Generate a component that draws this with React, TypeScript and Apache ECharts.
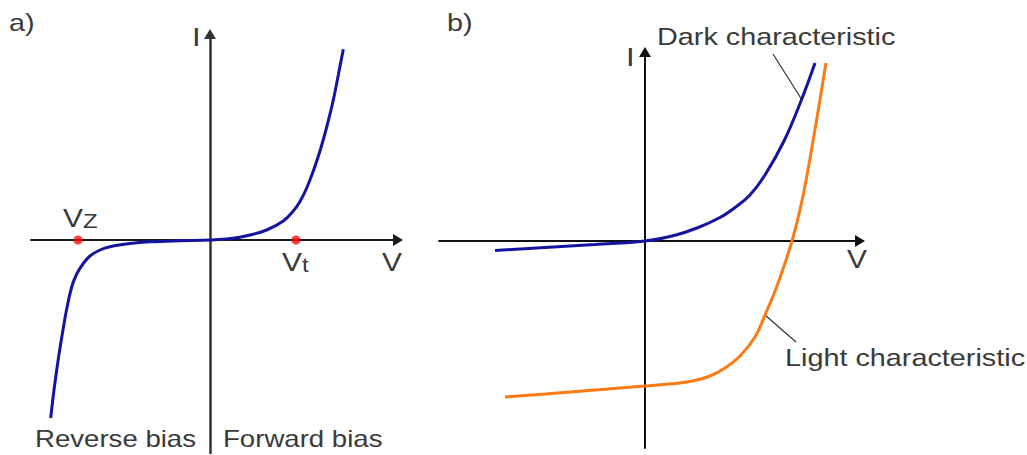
import React, { useEffect, useRef } from "react";
import * as echarts from "echarts";

// a) diode characteristic (V, I)
const diodeVoltage = [-1.593, -1.56, -1.517, -1.467, -1.433, -1.383, -1.333, -1.267, -1.2, -1.1, -1.0, -0.8, -0.6, -0.3, 0, 0.23, 0.4, 0.567, 0.733, 0.833, 0.9, 0.967, 1.033, 1.1, 1.167, 1.233, 1.283, 1.333];
const diodeCurrent = [-1.78, -1.5, -1.19, -0.88, -0.69, -0.47, -0.34, -0.235, -0.16, -0.1, -0.067, -0.035, -0.018, -0.007, 0, 0.017, 0.05, 0.1, 0.19, 0.29, 0.385, 0.52, 0.69, 0.89, 1.13, 1.4, 1.65, 1.907];

// Zener and threshold voltages
const markerVoltage = [-1.32, 0.86];

// b) photodiode: dark characteristic
const darkVoltage = [-1.5, -1.0, -0.5, 0, 0.3, 0.52, 0.75, 0.9, 1.05, 1.2, 1.39, 1.56, 1.7];
const darkCurrent = [-0.095, -0.065, -0.035, 0, 0.058, 0.13, 0.235, 0.335, 0.46, 0.66, 1.0, 1.4, 1.78];

// b) photodiode: light characteristic
const lightVoltage = [-1.4, -1.0, -0.5, 0, 0.3, 0.5, 0.65, 0.8, 0.95, 1.1, 1.2, 1.32, 1.47, 1.58, 1.68, 1.81];
const lightCurrent = [-1.56, -1.53, -1.49, -1.45, -1.425, -1.395, -1.35, -1.27, -1.15, -0.96, -0.74, -0.45, 0.0, 0.45, 1.0, 1.78];

const pairs = (xs: number[], ys: number[]) => xs.map((x, i) => [x, ys[i]]);

const FONT = '"Liberation Sans", Arial, sans-serif';
const TEXT = "#3a3a3a";
const STRETCH = 1.2;

const label = (text: string, x: number, y: number, size: number, rich?: any) => ({
  type: "text",
  x,
  y,
  scaleX: STRETCH,
  scaleY: 1,
  silent: true,
  style: {
    text,
    fill: TEXT,
    fontSize: size,
    fontFamily: FONT,
    align: "left",
    textAlign: "left",
    verticalAlign: "middle",
    textVerticalAlign: "middle",
    rich,
  },
});

const subRich = {
  v: { fontSize: 25, fontFamily: FONT, fill: TEXT, verticalAlign: "bottom" },
  s: { fontSize: 20, fontFamily: FONT, fill: TEXT, verticalAlign: "bottom" },
};

const axisLine = (color: string, width: number, arrow: boolean) => ({
  show: true,
  onZero: true,
  symbol: ["none", arrow ? "triangle" : "none"],
  symbolSize: [12, 10],
  lineStyle: { color, width },
});

const hiddenParts = {
  axisTick: { show: false },
  axisLabel: { show: false },
  splitLine: { show: false },
};

const curve = (xIdx: number, data: number[][], color: string) => ({
  type: "line",
  xAxisIndex: xIdx,
  yAxisIndex: xIdx,
  data,
  smooth: 0.4,
  showSymbol: false,
  clip: false,
  lineStyle: { color, width: 3 },
});

export default function App() {
  const ref = useRef<HTMLDivElement>(null);

  useEffect(() => {
    if (!ref.current) return;
    const chart = echarts.init(ref.current, null, { renderer: "svg" });
    chart.setOption({
      animation: false,
      backgroundColor: "#ffffff",
      grid: [
        { left: 31, top: 34, width: 367, height: 419 },
        { left: 439, top: 52, width: 421, height: 396 },
      ],
      xAxis: [
        { type: "value", gridIndex: 0, min: -1.79, max: 1.88, axisLine: axisLine("#1a1a1a", 2, true), ...hiddenParts },
        { type: "value", gridIndex: 1, min: -2.06, max: 2.15, axisLine: axisLine("#111111", 2, true), ...hiddenParts },
      ],
      yAxis: [
        { type: "value", gridIndex: 0, min: -2.13, max: 2.06, axisLine: axisLine("#333333", 2.5, true), ...hiddenParts },
        { type: "value", gridIndex: 1, min: -2.07, max: 1.89, axisLine: axisLine("#111111", 2, true), ...hiddenParts },
      ],
      series: [
        curve(0, pairs(diodeVoltage, diodeCurrent), "#1414a0"),
        {
          type: "scatter",
          xAxisIndex: 0,
          yAxisIndex: 0,
          data: markerVoltage.map((v) => [v, 0]),
          symbolSize: 9,
          itemStyle: { color: "#ff0a0a" },
          z: 5,
        },
        curve(1, pairs(darkVoltage, darkCurrent), "#1414a0"),
        curve(1, pairs(lightVoltage, lightCurrent), "#fb7a14"),
      ],
      graphic: [
        label("a)", 9, 23, 24),
        label("b)", 447, 23, 24),
        label("I", 192, 37, 26),
        label("V", 382, 262, 25),
        label("I", 626, 56.5, 26),
        label("V", 847, 259, 25),
        label("{v|V}{s|Z}", 63, 218.5, 25, subRich),
        label("{v|V}{s|t}", 282, 262.5, 25, subRich),
        label("Reverse bias", 35, 438.5, 23),
        label("Forward bias", 223, 438.5, 23),
        label("Dark characteristic", 657, 37, 24),
        label("Light characteristic", 785, 357.5, 24),
        {
          type: "line",
          silent: true,
          shape: { x1: 773, y1: 54, x2: 802, y2: 100 },
          style: { stroke: "#333333", lineWidth: 1.2 },
        },
        {
          type: "line",
          silent: true,
          shape: { x1: 765, y1: 315, x2: 796, y2: 342 },
          style: { stroke: "#333333", lineWidth: 1.2 },
        },
      ],
    });
    return () => chart.dispose();
  }, []);

  return (
    <div
      ref={ref}
      style={{ position: "fixed", left: 0, top: 0, width: 1027, height: 455 }}
    />
  );
}
